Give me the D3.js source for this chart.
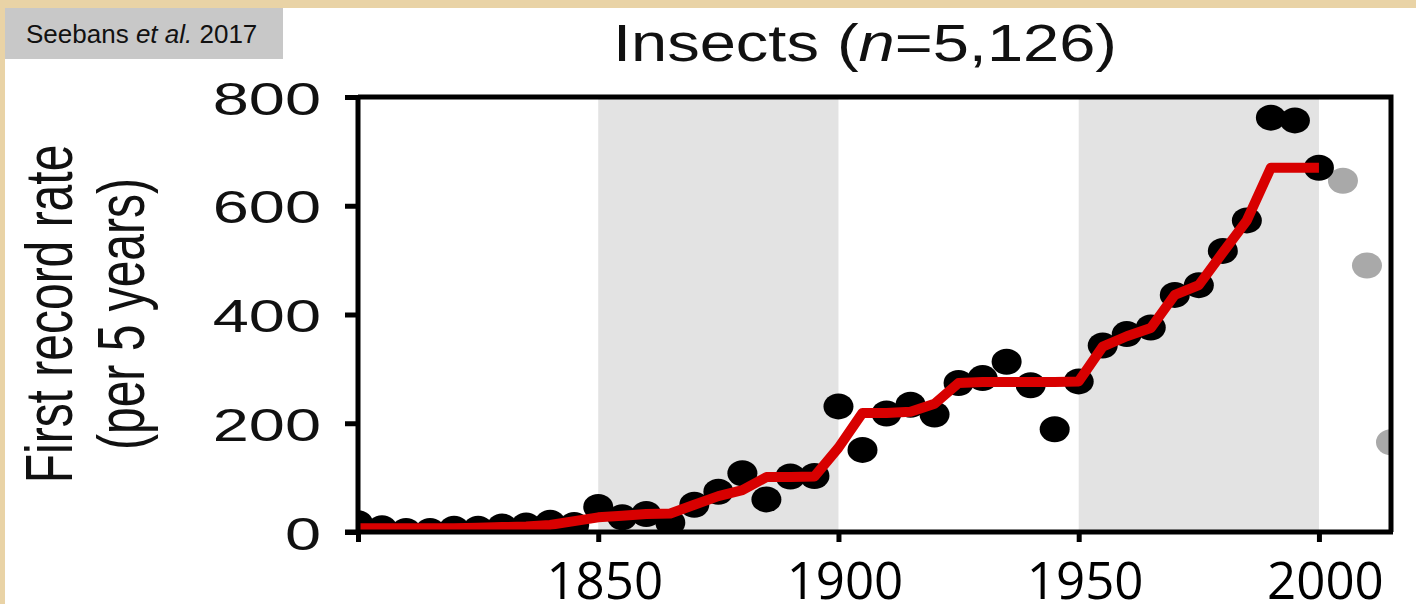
<!DOCTYPE html>
<html>
<head>
<meta charset="utf-8">
<script src="https://cdn.jsdelivr.net/npm/d3@7"></script>
<style>
  html, body { margin: 0; padding: 0; background: #e9d3a6; }
  svg { display: block; }
</style>
</head>
<body>
<svg id="chart"></svg>
<script>
// ── Data ──────────────────────────────────────────────────────────────────────
const recordYears = [1800, 1805, 1810, 1815, 1820, 1825, 1830, 1835, 1840, 1845,
                     1850, 1855, 1860, 1865, 1870, 1875, 1880, 1885, 1890, 1895,
                     1900, 1905, 1910, 1915, 1920, 1925, 1930, 1935, 1940, 1945,
                     1950, 1955, 1960, 1965, 1970, 1975, 1980, 1985, 1990, 1995, 2000];
const recordRate  = [16, 7, 2, 2, 6, 6, 10, 12, 17, 13,
                     46, 27, 33, 17, 50, 74, 108, 60, 102, 103,
                     231, 151, 218, 234, 216, 274, 283, 313, 270, 189,
                     277, 343, 364, 376, 436, 454, 517, 573, 762, 757, 670];
const trendRate   = [7, 7, 7, 7, 7, 8, 9, 10, 13, 20,
                     27, 30, 33, 34, 50, 66, 77, 101, 101, 102,
                     155, 219, 219, 221, 236, 274, 276, 276, 276, 276,
                     277, 341, 360, 375, 436, 454, 514, 573, 670, 670, 670];

// incomplete recent periods, drawn in grey
const recentYears = [2005, 2010, 2015];
const recentRate  = [646, 490, 165];

const shadedPeriods = [[1850, 1900], [1950, 2000]];
const yTicks = [0, 200, 400, 600, 800];
const xTicks = [1800, 1850, 1900, 1950, 2000];
const xTickLabels = ['', '1850', '1900', '1950', '2000'];

// ── Layout ────────────────────────────────────────────────────────────────────
const W = 1416, H = 604;
const plot = { left: 358, right: 1391, top: 97, bottom: 532 };
const STRETCH = 1.38;   // the source figure is squashed wider than tall

const svg = d3.select('#chart').attr('width', W).attr('height', H);

const x = d3.scaleLinear().domain([1800, 2015]).range([plot.left, plot.right]);
const y = d3.scaleLinear().domain([0, 800]).range([plot.bottom, plot.top]);

// white page over the parchment
svg.append('rect').attr('x', 5).attr('y', 8).attr('width', W - 5).attr('height', H - 8)
    .attr('fill', '#ffffff');

// source tag
svg.append('rect').attr('x', 5).attr('y', 8).attr('width', 278).attr('height', 51)
    .attr('fill', '#c8c8c8');
const tag = svg.append('text').attr('x', 26).attr('y', 43)
    .attr('font-family', 'Liberation Sans, Arial, sans-serif').attr('font-size', 26)
    .attr('fill', '#111');
tag.append('tspan').text('Seebans ');
tag.append('tspan').attr('font-style', 'italic').text('et al.');
tag.append('tspan').text(' 2017');

// ── Title ─────────────────────────────────────────────────────────────────────
const title = svg.append('text')
    .attr('transform', `translate(865,61) scale(1.25,1)`)
    .attr('text-anchor', 'middle')
    .attr('font-family', 'Liberation Sans, Arial, sans-serif').attr('font-size', 52)
    .attr('fill', '#111');
title.append('tspan').text('Insects (');
title.append('tspan').attr('font-style', 'italic').text('n');
title.append('tspan').text('=5,126)');

// ── Plot area ─────────────────────────────────────────────────────────────────
svg.append('defs').append('clipPath').attr('id', 'plot-clip')
    .append('rect')
    .attr('x', plot.left).attr('y', plot.top)
    .attr('width', plot.right - plot.left).attr('height', plot.bottom - plot.top);

const gPlot = svg.append('g').attr('clip-path', 'url(#plot-clip)');

gPlot.selectAll('rect.band')
    .data(shadedPeriods)
    .join('rect').attr('class', 'band')
    .attr('x', d => x(d[0])).attr('width', d => x(d[1]) - x(d[0]))
    .attr('y', plot.top).attr('height', plot.bottom - plot.top)
    .attr('fill', '#e3e3e3');

gPlot.selectAll('ellipse.recent')
    .data(recentYears)
    .join('ellipse').attr('class', 'recent')
    .attr('cx', d => x(d)).attr('cy', (d, i) => y(recentRate[i]))
    .attr('rx', 15).attr('ry', 13)
    .attr('fill', '#a9a9a9');

gPlot.selectAll('ellipse.rec')
    .data(recordYears)
    .join('ellipse').attr('class', 'rec')
    .attr('cx', d => x(d)).attr('cy', (d, i) => y(recordRate[i]))
    .attr('rx', 15).attr('ry', 13)
    .attr('fill', '#000');

const trendLine = d3.line()
    .x((d, i) => x(recordYears[i]))
    .y(d => y(d));

gPlot.append('path')
    .datum(trendRate)
    .attr('d', trendLine)
    .attr('fill', 'none')
    .attr('stroke', '#d80000')
    .attr('stroke-width', 10)
    .attr('stroke-linejoin', 'round')
    .attr('stroke-linecap', 'butt');

// ── Frame & axes ──────────────────────────────────────────────────────────────
svg.append('path')
    .attr('d', `M${plot.left},${plot.top}H${plot.right}V${plot.bottom}`)
    .attr('fill', 'none').attr('stroke', '#000').attr('stroke-width', 5);

const yAxis = svg.append('g')
    .attr('transform', `translate(${plot.left},0)`)
    .call(d3.axisLeft(y).tickValues(yTicks).tickSize(13).tickSizeOuter(0));

const xAxis = svg.append('g')
    .attr('transform', `translate(0,${plot.bottom})`)
    .call(d3.axisBottom(x).tickValues(xTicks).tickSize(10).tickSizeOuter(0)
        .tickFormat((d, i) => xTickLabels[i]));

[yAxis, xAxis].forEach(g => {
    g.select('.domain').attr('stroke', '#000').attr('stroke-width', 5);
    g.selectAll('.tick line').attr('stroke', '#000').attr('stroke-width', 5);
});
xAxis.select('.domain').attr('d', `M${plot.left - 13},0H${plot.right + 2}`);
yAxis.select('.domain').attr('d', `M0,${plot.top - 2}V${plot.bottom + 2}`);

yAxis.selectAll('.tick text')
    .attr('x', null).attr('dy', null)
    .attr('transform', `translate(-37,17) scale(${STRETCH},1)`)
    .attr('font-family', 'Liberation Sans, Arial, sans-serif')
    .attr('font-size', 47).attr('fill', '#111');

xAxis.selectAll('.tick text')
    .attr('y', null).attr('dy', null)
    .attr('transform', 'translate(6,67)')
    .attr('font-family', 'Open Sans, sans-serif')
    .attr('font-size', 51).attr('fill', '#000');

// ── Y-axis title ─────────────────────────────────────────────────────────────
const yTitle = svg.append('text')
    .attr('transform', `translate(0,314) scale(${STRETCH},1) rotate(-90)`)
    .attr('text-anchor', 'middle')
    .attr('font-family', 'Liberation Sans, Arial, sans-serif')
    .attr('font-size', 48).attr('fill', '#111');
yTitle.append('tspan').attr('x', 0).attr('y', 52).text('First record rate');
yTitle.append('tspan').attr('x', 0).attr('y', 104).text('(per 5 years)');
</script>
</body>
</html>
